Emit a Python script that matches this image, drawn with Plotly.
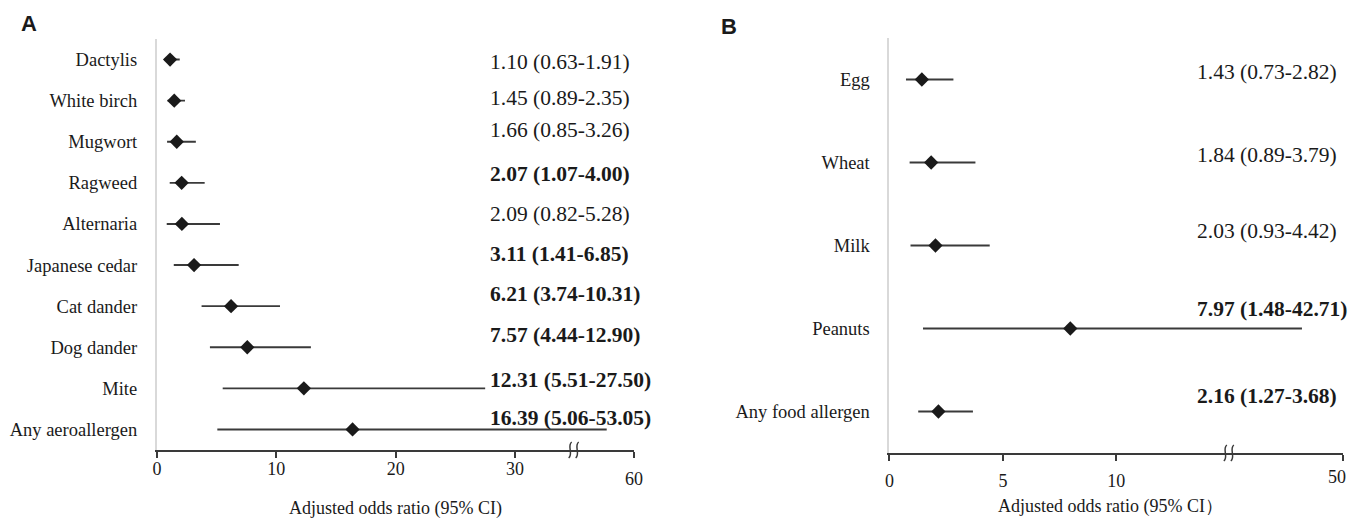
import plotly.graph_objects as go

# ---------------- data ----------------
a_labels = ["Dactylis", "White birch", "Mugwort", "Ragweed", "Alternaria",
            "Japanese cedar", "Cat dander", "Dog dander", "Mite", "Any aeroallergen"]
a_or = [1.10, 1.45, 1.66, 2.07, 2.09, 3.11, 6.21, 7.57, 12.31, 16.39]
a_lo = [0.63, 0.89, 0.85, 1.07, 0.82, 1.41, 3.74, 4.44, 5.51, 5.06]
a_hi = [1.91, 2.35, 3.26, 4.00, 5.28, 6.85, 10.31, 12.90, 27.50, 53.05]

b_labels = ["Egg", "Wheat", "Milk", "Peanuts", "Any food allergen"]
b_or = [1.43, 1.84, 2.03, 7.97, 2.16]
b_lo = [0.73, 0.89, 0.93, 1.48, 1.27]
b_hi = [2.82, 3.79, 4.42, 42.71, 3.68]

a_ticks = [0, 10, 20, 30, 60]
b_ticks = [0, 5, 10, 50]

# broken axes: linear up to the break start, compressed afterwards
A_BREAK, A_TOP = 30, 60
B_BREAK, B_TOP = 10, 50
GAP = 10  # axis units used by the compressed segment


def make_t(brk, top):
    k = GAP / (top - brk)
    return lambda v: v if v <= brk else brk + (v - brk) * k


tA = make_t(A_BREAK, A_TOP)
tB = make_t(B_BREAK, B_TOP)

SERIF = "Liberation Serif, Times New Roman, serif"
INK = "#1a1a1a"
LINE = "#3a3a3a"
W, H = 1348, 519

fig = go.Figure()


def add_panel(labels, ors, los, his, t, xa, ya):
    x = [t(v) for v in ors]
    fig.add_trace(go.Scatter(
        x=x, y=list(range(len(labels))), mode="markers",
        marker=dict(symbol="diamond", size=11, color=INK),
        error_x=dict(type="data", symmetric=False,
                     array=[t(h) - t(o) for h, o in zip(his, ors)],
                     arrayminus=[t(o) - t(l) for o, l in zip(ors, los)],
                     color=LINE, thickness=1.9, width=0),
        xaxis=xa, yaxis=ya, showlegend=False, hoverinfo="skip"))


add_panel(a_labels, a_or, a_lo, a_hi, tA, "x", "y")
add_panel(b_labels, b_or, b_lo, b_hi, tB, "x2", "y2")

# domains (from pixel layout)
xA = [152.5 / W, 631.7 / W]
xB = [887.7 / W, 1343.3 / W]
yA = [1 - 450 / H, 1 - 39 / H]
yB = [1 - 453 / H, 1 - 38 / H]


def xaxis_cfg(dom, ticks, t, yref, standoff, last_blank=True):
    vals = [t(v) for v in ticks]
    text = [str(v) for v in ticks]
    if last_blank:
        text[-1] = ""
    return dict(domain=dom, range=[0, t(ticks[-1])], anchor=yref,
                showline=True, linecolor=LINE, linewidth=1.6,
                ticks="outside", ticklen=6, tickcolor=LINE, tickwidth=1.5,
                tickvals=vals, ticktext=text,
                ticklabelstandoff=standoff,
                tickfont=dict(family=SERIF, size=18, color=INK),
                showgrid=False, zeroline=False, fixedrange=True)


def yaxis_cfg(dom, labels, xref):
    n = len(labels)
    return dict(domain=dom, range=[n - 0.5, -0.5], anchor=xref,
                showline=True, linecolor="#d9d9d9", linewidth=2,
                tickvals=list(range(n)), ticktext=labels, ticks="",
                ticklabelstandoff=14,
                tickfont=dict(family=SERIF, size=18.5, color=INK),
                showgrid=False, zeroline=False, fixedrange=True)


fig.update_layout(
    width=W, height=H, margin=dict(l=0, r=0, t=0, b=0),
    paper_bgcolor="white", plot_bgcolor="white",
    xaxis=xaxis_cfg(xA, a_ticks, tA, "y", -4),
    yaxis=yaxis_cfg(yA, a_labels, "x"),
    xaxis2=xaxis_cfg(xB, b_ticks, tB, "y2", 5),
    yaxis2=yaxis_cfg(yB, b_labels, "x2"),
)

ann = []
VAL_SIZE = 21.5
# value labels
a_shift = [-2, 3, 12, 9, 10, 11, 12, 12, 8, 11]
for i, (o, l, h) in enumerate(zip(a_or, a_lo, a_hi)):
    s = f"{o:.2f} ({l:.2f}-{h:.2f})"
    if l > 1:
        s = f"<b>{s}</b>"
    ann.append(dict(xref="x", yref="y", x=(484 - 152.5) / 11.96, y=i, yshift=a_shift[i],
                    text=s, showarrow=False, xanchor="left", yanchor="middle",
                    font=dict(family=SERIF, size=VAL_SIZE, color=INK)))
b_shift = [8, 8, 15, 20, 16]
for i, (o, l, h) in enumerate(zip(b_or, b_lo, b_hi)):
    s = f"{o:.2f} ({l:.2f}-{h:.2f})"
    if l > 1:
        s = f"<b>{s}</b>"
    ann.append(dict(xref="x2", yref="y2", x=(1194 - 887.7) / 22.78, y=i, yshift=b_shift[i],
                    text=s, showarrow=False, xanchor="left", yanchor="middle",
                    font=dict(family=SERIF, size=VAL_SIZE, color=INK)))

# last tick labels ("60" sits lower; "50" is kept inside the page)
ann.append(dict(xref="x", yref="paper", x=tA(A_TOP), y=1 - 479 / H, text=str(A_TOP),
                showarrow=False, xanchor="center", yanchor="middle",
                font=dict(family=SERIF, size=18, color=INK)))
ann.append(dict(xref="paper", yref="paper", x=1348 / W, y=1 - 477 / H, text=str(B_TOP),
                showarrow=False, xanchor="right", yanchor="middle",
                font=dict(family=SERIF, size=18, color=INK)))

# axis titles
ann.append(dict(xref="paper", yref="paper", x=392 / W, y=1 - 508 / H,
                text="Adjusted odds ratio (95% CI)", showarrow=False,
                xanchor="center", yanchor="middle",
                font=dict(family=SERIF, size=18, color=INK)))
ann.append(dict(xref="paper", yref="paper", x=1110 / W, y=1 - 506 / H,
                text="Adjusted odds ratio (95% CI\uff09", showarrow=False,
                xanchor="center", yanchor="middle",
                font=dict(family=SERIF, size=18, color=INK)))

# panel letters
ann.append(dict(xref="paper", yref="paper", x=24 / W, y=1 - 24 / H, text="<b>A</b>",
                showarrow=False, xanchor="center", yanchor="middle",
                font=dict(family="Liberation Sans, Arial, sans-serif", size=22, color=INK)))
ann.append(dict(xref="paper", yref="paper", x=727 / W, y=1 - 26 / H, text="<b>B</b>",
                showarrow=False, xanchor="center", yanchor="middle",
                font=dict(family="Liberation Sans, Arial, sans-serif", size=22, color=INK)))

fig.update_layout(annotations=ann)

# axis break marks
squiggle = "M -6,-8 C -1,-4 -8,4 -3,8 M 1,-8 C 6,-4 -1,4 4,8"
for xr, yr, xb in [("x", "y domain", (tA(A_BREAK) + tA(A_TOP)) / 2),
                   ("x2", "y2 domain", (tB(B_BREAK) + tB(B_TOP)) / 2)]:
    fig.add_shape(type="path", xref=xr, yref=yr, xsizemode="pixel", ysizemode="pixel",
                  xanchor=xb, yanchor=0, path=squiggle,
                  line=dict(color=LINE, width=1.5))

fig.write_html("out.html", config={"displayModeBar": False},
               post_script="document.body.style.margin='0';document.body.style.overflow='hidden';")
